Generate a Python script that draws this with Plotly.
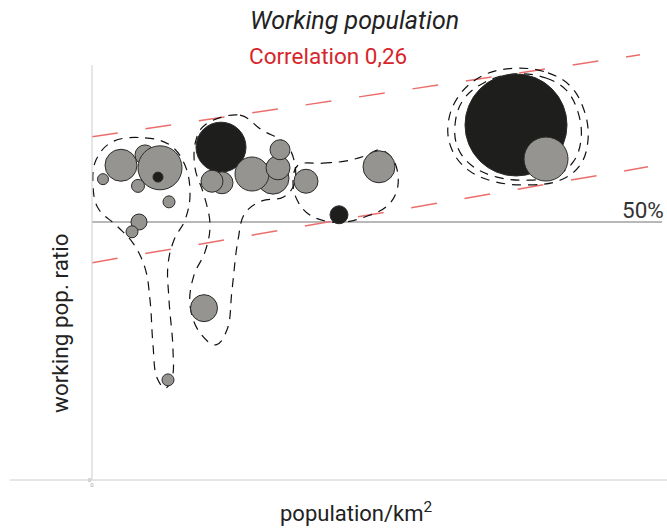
import plotly.graph_objects as go

# ---------------- data ----------------
# bubbles: population density (x), working population ratio % (y), bubble diameter, colour group
bub_x = [530, 290, 680, 660, 110, 460, 770, 470, 400, 760, 1120,
         1290, 1300, 1200, 1810, 1600, 1860, 1880, 2140, 2870, 2470,
         4240, 4540]
bub_y = [63.0, 61.0, 60.5, 58.7, 58.3, 57.0, 53.9, 50.0, 48.1, 19.4, 33.3,
         64.5, 57.6, 57.9, 58.5, 59.3, 60.5, 64.0, 57.9, 60.7, 51.4,
         68.8, 62.2]
bub_d = [20, 32, 44, 10, 11, 13, 12, 16, 12, 12, 27,
         50, 22, 22, 32, 34, 24, 20, 24, 32, 18,
         102, 44]
bub_dark = [0, 0, 0, 1, 0, 0, 0, 0, 0, 0, 0,
            1, 0, 0, 0, 0, 0, 0, 0, 0, 1,
            1, 0]

# correlation band (upper / lower bounds)
band_x = [0, 5480]
band_upper = [66.5, 82.4]
band_lower_x = [0, 5560]
band_lower = [42.1, 60.7]

reference_level = 50
correlation_text = "Correlation 0,26"

# cluster outlines
c1_x = [200, 530, 780, 930, 980, 930, 820, 760, 770, 810, 800, 730, 650, 610, 580, 530, 410, 250, 60, 10, 40, 200]
c1_y = [65.5, 66.3, 64.9, 61.0, 55.2, 50.4, 46.5, 41.7, 34.9, 25.2, 19.8, 17.8, 19.8, 26.2, 34.9, 41.1, 45.9, 49.2, 52.7, 57.2, 62.0, 65.5]
c2_x = [1130, 1480, 1700, 1930, 2020, 2020, 1910, 1700, 1530, 1460, 1400, 1350, 1240, 1080, 980, 1020, 1130, 1180, 1120, 1030, 1040, 1130]
c2_y = [68.8, 70.7, 67.8, 65.3, 62.0, 57.2, 54.8, 54.1, 51.7, 46.5, 36.8, 29.1, 26.2, 28.5, 33.9, 39.7, 44.2, 49.4, 55.2, 60.5, 65.9, 68.8]
c3_x = [2060, 2310, 2530, 2730, 2880, 3000, 3060, 3040, 2940, 2760, 2530, 2330, 2160, 2050, 2010, 2060]
c3_y = [61.0, 61.4, 61.8, 62.8, 64.0, 62.4, 59.1, 55.6, 52.9, 51.2, 50.0, 50.2, 51.6, 54.3, 57.8, 61.0]
c4_x = [4230, 4560, 4780, 4920, 4960, 4880, 4680, 4380, 4030, 3760, 3600, 3560, 3660, 3900, 4230]
c4_y = [79.8, 78.9, 76.4, 71.7, 65.9, 61.0, 58.1, 57.2, 57.8, 60.1, 64.0, 68.8, 74.2, 78.3, 79.8]
c5_x = [4240, 4540, 4740, 4860, 4890, 4810, 4630, 4360, 4050, 3800, 3660, 3630, 3710, 3930, 4240]
c5_y = [78.7, 77.9, 75.6, 71.3, 65.9, 61.6, 58.9, 58.1, 58.7, 60.9, 64.3, 68.8, 73.6, 77.1, 78.7]

# ---------------- figure ----------------
GRAY = "#959490"
DARK = "#1e1e1c"
RED_TXT = "#d7262b"
RED_LINE = "#ec6e6c"
FONT = "Roboto"

fig = go.Figure()

# reference 50% line
fig.add_trace(go.Scatter(x=[0, 5700], y=[reference_level, reference_level], mode="lines",
                         line=dict(color="#a0a0a0", width=1.5), hoverinfo="skip"))

# correlation band lines
fig.add_trace(go.Scatter(x=band_x, y=band_upper, mode="lines",
                         line=dict(color=RED_LINE, width=1.5, dash="26px,28px"), hoverinfo="skip"))
fig.add_trace(go.Scatter(x=band_lower_x, y=band_lower, mode="lines",
                         line=dict(color=RED_LINE, width=1.5, dash="26px,28px"), hoverinfo="skip"))

# cluster outlines
for cx, cy in [(c1_x, c1_y), (c2_x, c2_y), (c3_x, c3_y), (c4_x, c4_y), (c5_x, c5_y)]:
    fig.add_trace(go.Scatter(x=cx, y=cy, mode="lines",
                             line=dict(color="#111111", width=1.2, dash="9px,7px", shape="spline", smoothing=1.1),
                             hoverinfo="skip"))

# bubbles
fig.add_trace(go.Scatter(
    x=bub_x, y=bub_y, mode="markers",
    marker=dict(size=bub_d, sizemode="diameter",
                color=[DARK if d else GRAY for d in bub_dark],
                line=dict(color="#2b2b2b", width=1), opacity=1),
    hoverinfo="skip"))

fig.update_layout(
    width=667, height=528,
    margin=dict(l=92, r=0, t=40, b=48),
    paper_bgcolor="white", plot_bgcolor="white",
    showlegend=False,
    font=dict(family=FONT, color="#222222"),
    xaxis=dict(range=[0, 5750], showgrid=False, zeroline=False, showline=False,
               tickvals=[0], ticktext=["0"], tickfont=dict(size=6, color="#aaaaaa"), ticks=""),
    yaxis=dict(range=[0, 85.27], showgrid=False, zeroline=False, showline=False,
               tickvals=[0], ticktext=["0"], tickfont=dict(size=6, color="#aaaaaa"), ticks=""),
    shapes=[
        dict(type="line", xref="paper", yref="paper", x0=-0.1426, x1=1, y0=0, y1=0,
             line=dict(color="#cccccc", width=1)),
        dict(type="line", xref="paper", yref="paper", x0=0, x1=0, y0=0, y1=0.943,
             line=dict(color="#cccccc", width=1)),
    ],
    annotations=[
        dict(text="<i>Working population</i>", xref="paper", yref="paper",
             x=(354 - 92) / 575, y=(480 - 20) / 440, xanchor="center", yanchor="middle",
             showarrow=False, font=dict(size=25, color="#222222", family=FONT)),
        dict(text=correlation_text, xref="paper", yref="paper",
             x=(328 - 92) / 575, y=(480 - 56) / 440, xanchor="center", yanchor="middle",
             showarrow=False, font=dict(size=22.5, color=RED_TXT, family=FONT)),
        dict(text=f"{reference_level}%", xref="paper", yref="paper",
             x=(666 - 92) / 575, y=(480 - 210) / 440, xanchor="right", yanchor="middle",
             showarrow=False, font=dict(size=22.5, color="#333333", family=FONT)),
        dict(text="population/km<sup>2</sup>", xref="paper", yref="paper",
             x=(356 - 92) / 575, y=(480 - 512) / 440, xanchor="center", yanchor="middle",
             showarrow=False, font=dict(size=22, color="#222222", family=FONT)),
        dict(text="working pop. ratio", xref="paper", yref="paper", textangle=-90,
             x=(60 - 92) / 575, y=(480 - 323) / 440, xanchor="center", yanchor="middle",
             showarrow=False, font=dict(size=22.5, color="#222222", family=FONT)),
    ],
)

fig.write_html("out.html", config={"displayModeBar": False},
               post_script="document.body.style.margin='0';document.body.style.overflow='hidden';")
